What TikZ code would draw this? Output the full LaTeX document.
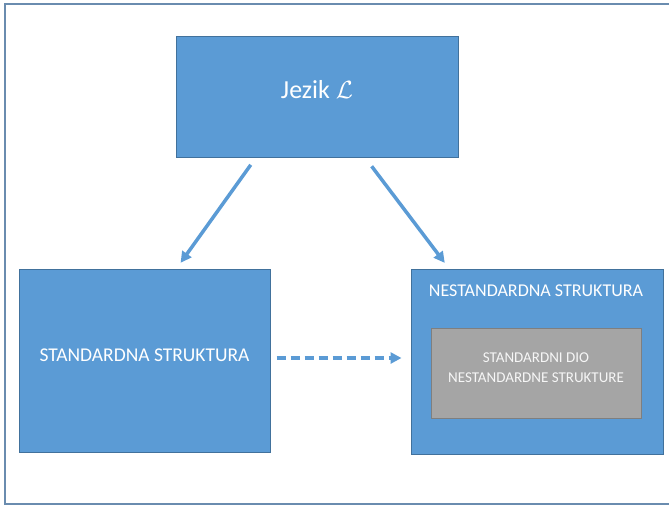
\documentclass[tikz,border=0pt]{standalone}
\usepackage{fontspec}
\setmainfont{Carlito}
\usetikzlibrary{arrows.meta,positioning}
\definecolor{boxblue}{HTML}{5B9BD5}
\definecolor{boxedge}{HTML}{41719C}
\definecolor{boxgray}{HTML}{A5A5A5}
\definecolor{grayedge}{HTML}{7F7F7F}
\definecolor{framecol}{HTML}{6A8CAF}

\begin{document}
\begin{tikzpicture}[x=1pt, y=-1pt,
  every node/.style={draw=boxedge, line width=1pt, fill=boxblue, text=white, align=center, inner sep=0pt},
  link/.style={draw=boxblue, line width=3.5pt, -{Triangle[length=11pt,width=11pt]}}]
\useasboundingbox (0,0) rectangle (669,506);
\draw[framecol, line width=1.5pt] (669,4) -- (5,4) -- (5,504) -- (669,504);
\node (jezik) at (317,96.5) [minimum width=282pt, minimum height=121pt] {};
\node (jeziktext) at (317,90) [draw=none, fill=none, font=\fontsize{26}{30}\selectfont] {Jezik $\mathcal{L}$};
\node (std) at (144.5,360.5) [minimum width=251pt, minimum height=183pt] {};
\node (stdtext) at (144.5,355) [draw=none, fill=none, font=\fontsize{19.5}{23}\selectfont] {STANDARDNA STRUKTURA};
\node (nstd) at (537,361.5) [minimum width=252pt, minimum height=185pt] {};
\node (nstdtitle) at (536,291) [draw=none, fill=none, font=\fontsize{18}{21}\selectfont] {NESTANDARDNA STRUKTURA};
\node (dio) at (536,373) [draw=grayedge, fill=boxgray, text=white!93!gray, minimum width=210pt, minimum height=90pt] {};
\node (diotext) at (536,368) [draw=none, fill=none, text=white!93!gray, font=\fontsize{15}{20}\selectfont] {STANDARDNI DIO\\NESTANDARDNE STRUKTURE};
\draw[link, shorten <=9pt, shorten >=7pt] ([xshift=-61pt]jezik.south) -- ([xshift=32pt]std.north);
\draw[link, shorten <=11pt, shorten >=7pt] ([xshift=48pt]jezik.south) -- ([xshift=-88pt]nstd.north);
\draw[link, dash pattern=on 9pt off 5pt, shorten <=6pt, shorten >=9pt] ([yshift=2.5pt]std.east) -- ([yshift=3.5pt]nstd.west);
\end{tikzpicture}
\end{document}
